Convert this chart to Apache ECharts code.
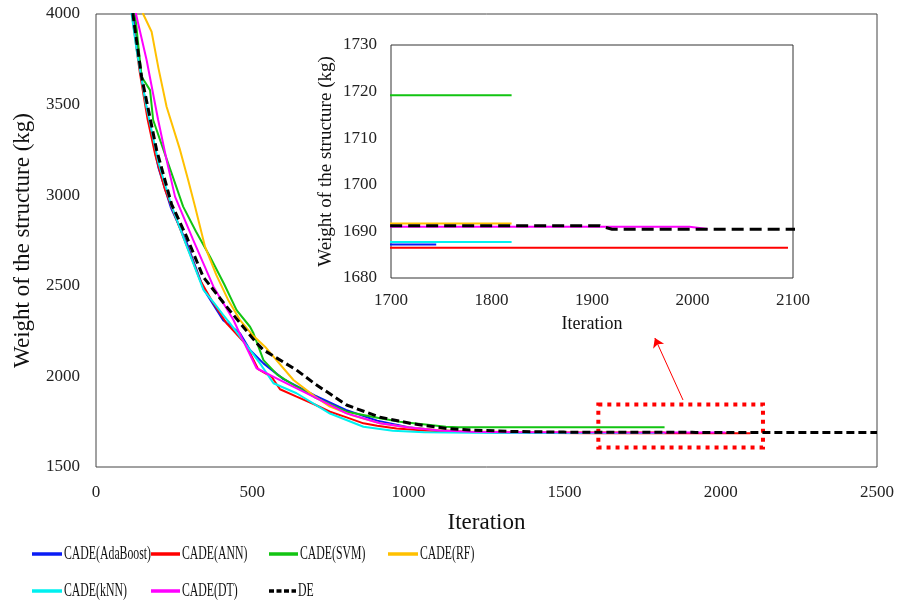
<!DOCTYPE html>
<html>
<head>
<meta charset="utf-8">
<script src="https://cdn.jsdelivr.net/npm/echarts@6/dist/echarts.min.js"></script>
<style>
  html, body { margin: 0; padding: 0; background: #fff }
  #chart { width: 901px; height: 601px }
</style>
</head>
<body>
<div id="chart"></div>
<script>
// convergence histories, [iteration, weight (kg)]
const adaBoost = [[95, 4400], [120, 4000], [140, 3700], [170, 3400], [200, 3150], [240, 2930], [290, 2740], [345, 2480], [407, 2310], [461, 2238], [493, 2146], [536, 2072], [600, 1985], [700, 1895], [800, 1815], [900, 1755], [1000, 1720], [1100, 1702], [1200, 1694], [1300, 1690], [1400, 1688.5], [1500, 1687.8], [1600, 1687.4], [1700, 1687.2], [1745, 1687.2]]
const ann = [[90, 4400], [115, 4000], [140, 3680], [165, 3420], [190, 3220], [221, 3030], [250, 2900], [279, 2771], [300, 2680], [333, 2532], [370, 2420], [418, 2293], [477, 2183], [519, 2040], [562, 1998], [589, 1929], [642, 1888], [700, 1845], [749, 1805], [800, 1775], [856, 1741], [900, 1728], [962, 1713], [1050, 1702], [1150, 1694], [1300, 1690], [1450, 1688], [1600, 1686.8], [1700, 1686.5], [2095, 1686.5]]
const svm = [[100, 4350], [125, 4000], [146, 3654], [173, 3580], [183, 3415], [231, 3176], [279, 2937], [320, 2800], [365, 2660], [410, 2510], [450, 2366], [493, 2274], [504, 2238], [536, 2090], [580, 2010], [642, 1943], [700, 1885], [802, 1805], [909, 1769], [973, 1750], [1069, 1732], [1120, 1722], [1160, 1719.2], [1820, 1719.2]]
const rf = [[130, 4400], [151, 4000], [178, 3902], [200, 3700], [226, 3488], [269, 3250], [295, 3084], [317, 2937], [349, 2716], [385, 2560], [423, 2422], [461, 2311], [500, 2230], [541, 2164], [568, 2109], [632, 1980], [700, 1890], [749, 1833], [820, 1785], [909, 1741], [1000, 1718], [1100, 1703], [1200, 1696], [1350, 1693], [1500, 1692], [1650, 1691.7], [1820, 1691.7]]
const knn = [[90, 4400], [114, 4000], [130, 3801], [160, 3500], [200, 3180], [240, 2950], [290, 2720], [344, 2477], [380, 2400], [407, 2340], [429, 2293], [461, 2219], [525, 2072], [568, 1962], [642, 1907], [749, 1795], [856, 1722], [950, 1700], [1050, 1692], [1200, 1689], [1400, 1688.1], [1600, 1687.8], [1700, 1687.7], [1820, 1687.7]]
const dt = [[100, 4450], [128, 4000], [162, 3746], [199, 3415], [226, 3194], [253, 2992], [311, 2753], [376, 2495], [440, 2311], [470, 2200], [514, 2045], [589, 1980], [696, 1888], [802, 1796], [909, 1741], [1000, 1718], [1100, 1702], [1200, 1695], [1350, 1692.3], [1500, 1691.4], [1700, 1691.0], [1997, 1691.0], [2015, 1690.5]]
const de = [[95, 4400], [118, 4000], [146, 3654], [194, 3250], [242, 2950], [290, 2771], [343, 2550], [418, 2385], [514, 2184], [536, 2146], [642, 2035], [700, 1960], [802, 1842], [909, 1775], [1015, 1738], [1122, 1713], [1200, 1704], [1335, 1696], [1500, 1692.5], [1600, 1691.6], [1700, 1691.2], [1908, 1691.2], [1920, 1690.45], [2500, 1690.45]]

// zoom box and arrow pointing to the inset (data coords)
const zoomBox = [[1608, 1845], [2135, 1608]]
const arrowLine = [[1879, 1870], [1789, 2212]]

const font = 'Liberation Serif'
const seriesDefs = [
  { name: 'CADE(AdaBoost)', data: adaBoost, color: '#0a1cf5' },
  { name: 'CADE(ANN)', data: ann, color: '#ff0000' },
  { name: 'CADE(SVM)', data: svm, color: '#12c412' },
  { name: 'CADE(RF)', data: rf, color: '#ffc000' },
  { name: 'CADE(kNN)', data: knn, color: '#00f0f0' },
  { name: 'CADE(DT)', data: dt, color: '#ff00ff' },
  { name: 'DE', data: de, color: '#000000', dashed: true }
]

// legend slots: [icon left, icon right, row y] in the same order as seriesDefs
const legendSlots = [[32, 62, 554], [151, 180, 554], [269, 298, 554], [388, 418, 554],
                     [32, 62, 591], [151, 180, 591], [269, 296, 591]]

function makeSeries(def, inset) {
  const s = {
    name: def.name,
    type: 'line',
    data: def.data,
    xAxisIndex: inset ? 1 : 0,
    yAxisIndex: inset ? 1 : 0,
    symbol: 'none',
    clip: true,
    silent: true,
    lineStyle: {
      color: def.color,
      width: def.dashed ? 3 : 2,
      type: def.dashed ? (inset ? [12, 6] : [8, 4]) : 'solid'
    },
    itemStyle: { color: def.color },
    z: def.dashed ? 5 : 3
  }
  if (def.dashed && !inset) {
    s.markArea = {
      silent: true,
      itemStyle: { color: 'rgba(0,0,0,0)', borderColor: '#ff0000', borderWidth: 4, borderType: [4, 5] },
      data: [[{ coord: zoomBox[0] }, { coord: zoomBox[1] }]]
    }
    s.markLine = {
      silent: true,
      symbol: ['none', 'arrow'],
      symbolSize: 9,
      label: { show: false },
      lineStyle: { color: '#ff0000', width: 1, type: 'solid' },
      data: [[{ coord: arrowLine[0] }, { coord: arrowLine[1] }]]
    }
  }
  return s
}

// legend drawn as graphics: the original uses a condensed serif face
function legendGraphics() {
  const out = []
  seriesDefs.forEach((d, i) => {
    const [x0, x1, y] = legendSlots[i]
    out.push({
      type: 'line',
      shape: { x1: x0, y1: y, x2: x1, y2: y },
      style: { stroke: d.color, lineWidth: 3.5, lineDash: d.dashed ? [5, 2.5] : null }
    })
    out.push({
      type: 'text',
      x: x1 + 2, y: y, scaleX: 0.62,
      style: { text: d.name, font: '19px "Liberation Serif"', fill: '#111', verticalAlign: 'middle', align: 'left' }
    })
  })
  return out
}

const plain = v => String(v)
const axisLabel = { fontFamily: font, fontSize: 17, color: '#222', formatter: plain }
const nameStyle = { fontFamily: font, fontSize: 23, color: '#111' }

const chart = echarts.init(document.getElementById('chart'))
chart.setOption({
  animation: false,
  backgroundColor: '#fff',
  graphic: legendGraphics(),
  grid: [
    { left: 96, top: 14, right: 24, bottom: 134, show: true, borderColor: '#444', borderWidth: 1 },
    { left: 391, top: 45, width: 402, height: 233, show: true, borderColor: '#333', borderWidth: 1, backgroundColor: '#fff' }
  ],
  xAxis: [
    {
      type: 'value', gridIndex: 0, min: 0, max: 2500, interval: 500,
      name: 'Iteration', nameLocation: 'middle', nameGap: 44, nameTextStyle: nameStyle,
      axisLine: { show: false }, axisTick: { show: false }, splitLine: { show: false },
      axisLabel: { ...axisLabel, margin: 17 }
    },
    {
      type: 'value', gridIndex: 1, min: 1700, max: 2100, interval: 100,
      name: 'Iteration', nameLocation: 'middle', nameGap: 37, nameTextStyle: { fontFamily: font, fontSize: 18, color: '#111' },
      axisLine: { show: false }, axisTick: { show: false }, splitLine: { show: false },
      axisLabel: { ...axisLabel, margin: 14 }
    }
  ],
  yAxis: [
    {
      type: 'value', gridIndex: 0, min: 1500, max: 4000, interval: 500,
      name: 'Weight of the structure (kg)', nameLocation: 'middle', nameGap: 62, nameTextStyle: nameStyle,
      axisLine: { show: false }, axisTick: { show: false }, splitLine: { show: false },
      axisLabel: { ...axisLabel, margin: 16 }
    },
    {
      type: 'value', gridIndex: 1, min: 1680, max: 1730, interval: 10,
      name: 'Weight of the structure (kg)', nameLocation: 'middle', nameGap: 55, nameTextStyle: { fontFamily: font, fontSize: 19, color: '#111' },
      axisLine: { show: false }, axisTick: { show: false }, splitLine: { show: false },
      axisLabel: { ...axisLabel, margin: 14 }
    }
  ],
  series: [
    ...seriesDefs.map(d => makeSeries(d, false)),
    ...seriesDefs.map(d => makeSeries(d, true))
  ]
})
</script>
</body>
</html>
